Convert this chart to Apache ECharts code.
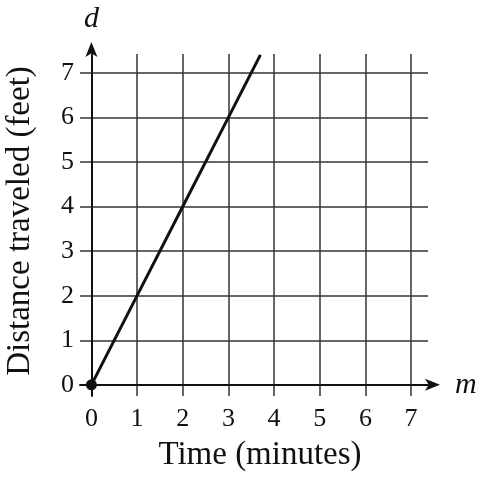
<!DOCTYPE html>
<html><head><meta charset="utf-8">
<script src="https://cdn.jsdelivr.net/npm/echarts@6/dist/echarts.min.js"></script>
<style>html,body{margin:0;padding:0;background:#fff}#c{width:480px;height:480px}</style>
</head><body><div id="c"></div>
<script>
const timeMinutes = [0, 1, 2, 3, 3.7];
const distanceFeet = [0, 2, 4, 6, 7.4];
const xTickLabels = ['0','1','2','3','4','5','6','7'];
const yTickLabels = ['0','1','2','3','4','5','6','7'];
const xTitle = 'Time (minutes)';
const yTitle = 'Distance traveled (feet)';
const xVar = 'm';
const yVar = 'd';

const serif = '"Liberation Serif", "DejaVu Serif", serif';
const mkLabel = labels => v => {
  const r = Math.round(v);
  return (Math.abs(v - r) < 1e-6 && r >= 0 && r < labels.length) ? labels[r] : '';
};

const data = timeMinutes.map((t, i) => i === 0
  ? {value: [t, distanceFeet[i]], symbol: 'circle', symbolSize: 11}
  : {value: [t, distanceFeet[i]], symbol: 'none'});

const chart = echarts.init(document.getElementById('c'));
chart.setOption({
  animation: false,
  grid: {left: 80, right: 52, top: 54, bottom: 84, containLabel: false},
  xAxis: {
    type: 'value', min: -0.25, max: 7.37, minInterval: 1, maxInterval: 1, splitNumber: 8,
    name: xVar, nameLocation: 'end', nameGap: 27,
    nameTextStyle: {fontFamily: serif, fontStyle: 'italic', fontSize: 30, color: '#111', verticalAlign: 'middle'},
    axisLine: {onZero: true, lineStyle: {color: '#111', width: 2}, symbol: ['none', 'arrow'], symbolSize: [9, 15], symbolOffset: [0, 12]},
    axisTick: {show: false},
    axisLabel: {formatter: mkLabel(xTickLabels), fontFamily: serif, fontSize: 26, color: '#111', margin: 10, showMinLabel: false, showMaxLabel: false},
    splitLine: {show: true, showMinLine: false, showMaxLine: false, lineStyle: {color: '#333', width: 1.5}}
  },
  yAxis: {
    type: 'value', min: -0.25, max: 7.42, minInterval: 1, maxInterval: 1, splitNumber: 8,
    name: yVar, nameLocation: 'end', nameGap: 20,
    nameTextStyle: {fontFamily: serif, fontStyle: 'italic', fontSize: 30, color: '#111', align: 'center'},
    axisLine: {onZero: true, lineStyle: {color: '#111', width: 2}, symbol: ['none', 'arrow'], symbolSize: [9, 15], symbolOffset: [0, 12]},
    axisTick: {show: false},
    axisLabel: {formatter: mkLabel(yTickLabels), fontFamily: serif, fontSize: 26, color: '#111', margin: 6, showMinLabel: false, showMaxLabel: false},
    splitLine: {show: true, showMinLine: false, showMaxLine: false, lineStyle: {color: '#333', width: 1.5}}
  },
  graphic: [
    {type: 'text', x: 260, y: 439, style: {text: xTitle, font: '33px ' + serif, fill: '#111', align: 'center', verticalAlign: 'top'}},
    {type: 'text', x: 4, y: 221, rotation: Math.PI / 2, style: {text: yTitle, font: '33px ' + serif, fill: '#111', align: 'center', verticalAlign: 'top'}}
  ],
  series: [{
    type: 'line', data: data, clip: false,
    lineStyle: {color: '#111', width: 3},
    itemStyle: {color: '#111'}
  }]
});
</script></body></html>
